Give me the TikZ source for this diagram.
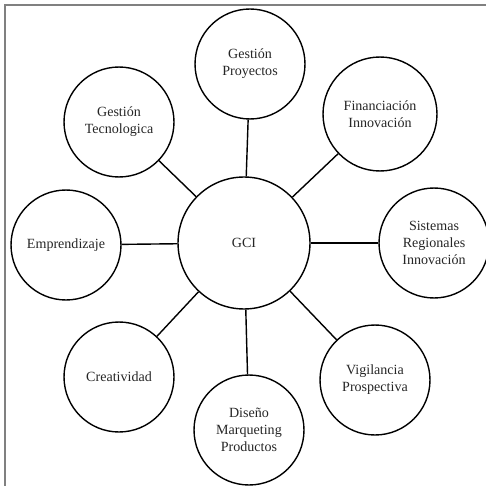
\documentclass[tikz,border=0pt]{standalone}
\usepackage{fontspec}
\setmainfont{Liberation Serif}
\usepackage{tikz}

\begin{document}
\begin{tikzpicture}[x=0.02cm, y=-0.02cm,
    tema/.style={circle, draw, thick, minimum size=2.2cm, align=center,
                 inner sep=0pt, font=\fontsize{8}{9.7}\selectfont, text=black!85},
    enlace/.style={thick}]
        \useasboundingbox (0,0) rectangle (486,486);

        % Marco
        \draw[gray, line width=0.6pt] (5,486) -- (5,5) -- (486,5);

        % Circulo central
        \node[tema, minimum size=2.64cm] (gci) at (244,243) {GCI};

        % Circulos alrededor
        \node[tema] (proyectos) at (250,64) {Gestión\\Proyectos};
        \node[tema, minimum size=2.28cm] (financiacion) at (380,114) {Financiación\\Innovación};
        \node[tema] (sistemas) at (434,243) {Sistemas\\Regionales\\Innovación};
        \node[tema] (vigilancia) at (375,380) {Vigilancia\\Prospectiva};
        \node[tema] (diseno) at (249,430) {Diseño\\Marqueting\\Productos};
        \node[tema] (creatividad) at (119,377) {Creatividad};
        \node[tema] (emprendizaje) at (66,245) {Emprendizaje};
        \node[tema] (tecnologica) at (119,122) {Gestión\\Tecnologica};

        % Lineas al centro
        \foreach \n in {proyectos,financiacion,sistemas,vigilancia,diseno,creatividad,emprendizaje,tecnologica}
            \draw[enlace] (gci) -- (\n);
    \end{tikzpicture}
\end{document}
